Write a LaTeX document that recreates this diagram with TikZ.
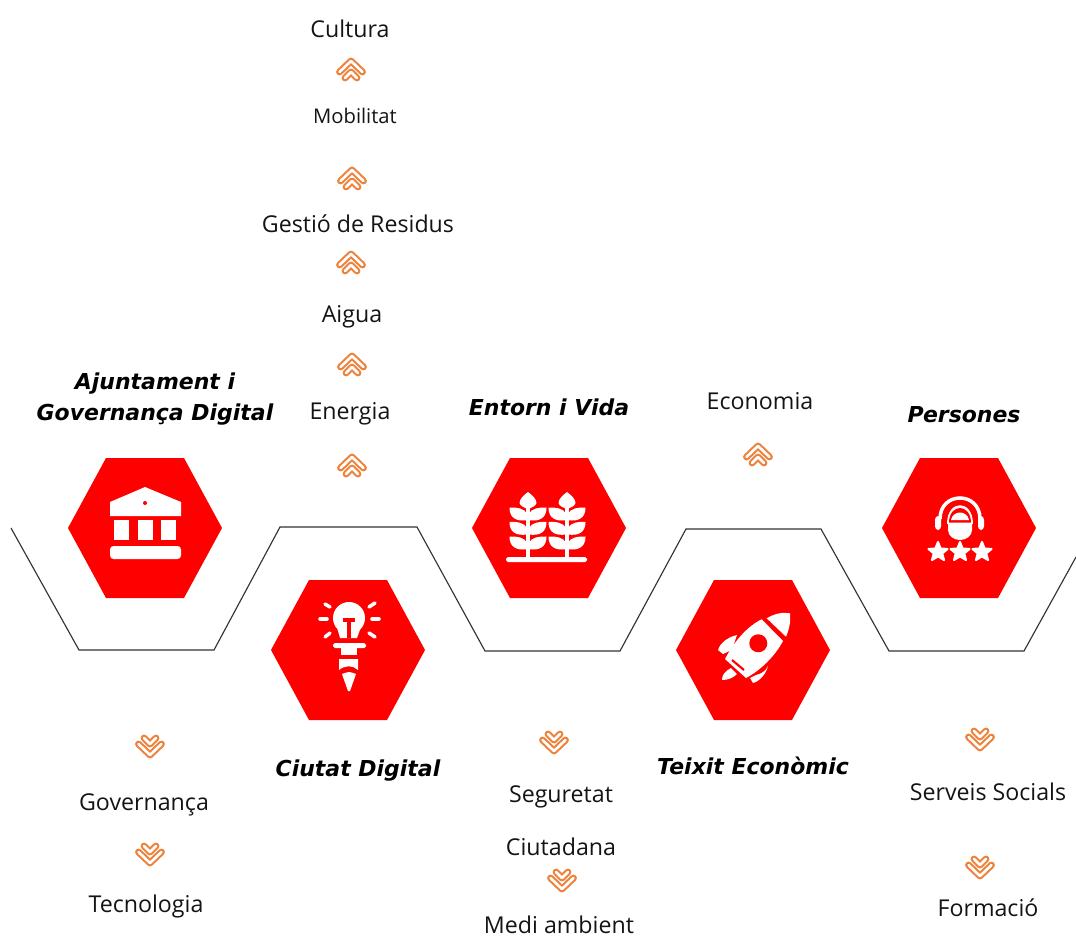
\documentclass[tikz,border=0pt]{standalone}
\usepackage{fontspec}
\setmainfont{Open Sans}
\newfontfamily\themeFont{DejaVu Sans}
\definecolor{chevronOrange}{RGB}{237,130,60}
\newcommand{\myHexagon}[1]{%%
  \fill[hexStyle] ($(#1)+(-77,0)$) -- ($(#1)+(-39,-70)$) -- ($(#1)+(39,-70)$)
    -- ($(#1)+(77,0)$) -- ($(#1)+(39,70)$) -- ($(#1)+(-39,70)$) -- cycle;
}
\newcommand{\chevronPair}[3]{%%
  \begin{scope}[shift={(#1,#2)},yscale=#3]
    \draw[chevronOuter] (-11.5,1) -- (0,-10) -- (11.5,1);
    \draw[chevronInner] (-11.5,1) -- (0,-10) -- (11.5,1);
    \draw[chevronOuter] (-6,7) -- (0,1) -- (6,7);
    \draw[chevronInner] (-6,7) -- (0,1) -- (6,7);
  \end{scope}
}
\newcommand{\bankIcon}{%%
  \fill[white] (-35,-26) -- (0,-41) -- (36,-26) -- (36,-12) -- (-35,-12) -- cycle;
  \fill[red] (0,-25) circle [radius=2];
  \foreach \xa in {-31,-7,16} {
    \fill[white] (\xa,-8) rectangle ++(15,20);
  }
  \fill[white,rounded corners=2] (-35,18) rectangle (36,31);
}
\newcommand{\bulbIcon}{%%
  \fill[white] (1,-32) circle [radius=16];
  \fill[white] (-12,-26) -- (14,-26) -- (9,-12) -- (-8,-12) -- cycle;
  \draw[red,line width=2pt] (-5,-30) -- (7,-30) (1,-30) -- (1,-12);
  %% The rays.
  \foreach \xa/\ya/\xb/\yb in {-28/-31/-21/-31,-23/-46/-18/-43,-23/-13/-18/-17,
    31/-31/24/-31,27/-47/21/-43,27/-13/21/-17} {
    \draw[rayStyle] (\xa,\ya) -- (\xb,\yb);
  }
  \fill[white,rounded corners=1] (-15,-7) rectangle (18,-2);
  \fill[white] (-7,-2) -- (9,-2) -- (9,5) -- (-7,5) -- cycle;
  \fill[white] (-9,9) -- (10,9) -- (10,20) .. controls (5,15) and (-3,15) .. (-9,20) -- cycle;
  \fill[white] (-6,24) .. controls (-3,23) and (-1,22) .. (1,22)
    .. controls (3,22) and (5,23) .. (8,24) -- (2,41) -- (0,41) -- cycle;
}
\newcommand{\wheatStalk}[1]{%%
  \fill[white] (#1,-36) .. controls (#1-4,-33) and (#1-8.5,-29) .. (#1-8.5,-25)
    .. controls (#1-8,-22) and (#1-3,-20) .. (#1,-19)
    .. controls (#1+3,-20) and (#1+8,-22) .. (#1+8.5,-25)
    .. controls (#1+8.5,-29) and (#1+4,-33) .. (#1,-36) -- cycle;
  \draw[white,line width=2.5pt] (#1,-20) -- (#1,31);
  \foreach \ya in {-21.3,-7,7.7} {
    \fill[white] (#1-1,\ya+13.5) .. controls (#1-12,\ya+15) and (#1-18.5,\ya+11) .. (#1-18.5,\ya+1)
      .. controls (#1-12,\ya+0) and (#1-3,\ya+2) .. (#1-1,\ya+7) -- cycle;
    \fill[white] (#1+1,\ya+13.5) .. controls (#1+12,\ya+15) and (#1+18.5,\ya+11) .. (#1+18.5,\ya+1)
      .. controls (#1+12,\ya+0) and (#1+3,\ya+2) .. (#1+1,\ya+7) -- cycle;
  }
}
\newcommand{\wheatIcon}{%%
  \wheatStalk{-21}
  \wheatStalk{18}
  \fill[white,rounded corners=1] (-43,29) rectangle (38,34);
}
\newcommand{\rocketIcon}{%%
  %% The nose.
  \fill[white] (13.7,-31.7) .. controls (22,-36.7) and (30,-38) .. (37,-36.7)
    .. controls (38,-29) and (36,-20) .. (33,-13.3) -- cycle;
  %% The body.
  \fill[white] (8.7,-30.7) .. controls (-5,-24) and (-18,-10) .. (-28,9)
    -- (-7,28) .. controls (8,20) and (22,6) .. (30,-9) -- cycle;
  \fill[red] (5.3,-6.7) circle [radius=9];
  \draw[red,line width=1.2pt] (-21,10) -- (-9,20);
  %% The fins and the flame.
  \fill[white] (-16,-15) .. controls (-25,-13) and (-33,-7) .. (-35,0)
    -- (-30,4) -- (-21,0) .. controls (-19,-5) and (-18,-10) .. (-16,-15) -- cycle;
  \fill[white] (15,16) .. controls (13,21) and (8,24) .. (3,25)
    -- (-3,28) -- (0,33) .. controls (7,31) and (13,24) .. (15,16) -- cycle;
  \fill[white] (-22,18) .. controls (-28,21) and (-31,25) .. (-31,30)
    .. controls (-25,30) and (-20,28) .. (-16,24) -- cycle;
}
\newcommand{\agentIcon}{%%
  %% The headset.
  \draw[white,line width=2pt] (-19,-9) .. controls (-19,-37) and (21,-37) .. (21,-9);
  \fill[white,rounded corners=2] (-24,-12) rectangle (-18,2);
  \fill[white,rounded corners=2] (19,-12) rectangle (25,2);
  %% The hood, the goggles and the face.
  \fill[white] (-12,-4) .. controls (-12,-29) and (14,-29) .. (14,-4) -- cycle;
  \fill[red] (-10,-5) .. controls (-10,-25) and (12,-25) .. (12,-5) -- cycle;
  \fill[white] (-8,-8) .. controls (-6,-18) and (8,-18) .. (10,-8) -- cycle;
  \fill[white] (-11,-5.5) -- (13,-5.5) -- (13,2) .. controls (13,8) and (7,12) .. (1,12)
    .. controls (-5,12) and (-11,8) .. (-11,2) -- cycle;
  \foreach \xa in {-21,1,23} {
    \fill[white,draw=white,line width=1.2pt,line join=round]
      (\xa+0,24-10) -- (\xa+2.6,24-3.5) -- (\xa+9.5,24-3) -- (\xa+4.2,24+1.4)
      -- (\xa+6,24+8) -- (\xa+0,24+4.4) -- (\xa-6,24+8) -- (\xa-4.2,24+1.4)
      -- (\xa-9.5,24-3) -- (\xa-2.6,24-3.5) -- cycle;
  }
}
\usetikzlibrary{calc}

\begin{document}
\begin{tikzpicture}[%%
  x=0.02cm,y=-0.02cm,%%
  hexStyle/.style={fill=red},%%
  lineStyle/.style={-,line width=0.65pt,black!80},%%
  rayStyle/.style={white,line width=2pt,line cap=round},%%
  chevronOuter/.style={line width=3.9pt,draw=chevronOrange,line cap=round,line join=round},%%
  chevronInner/.style={line width=1.5pt,draw=white,line cap=round,line join=round},%%
  itemStyle/.style={font=\fontsize{13.2}{15}\selectfont,text=black!92,inner sep=0pt},%%
  themeStyle/.style={font=\themeFont\fontsize{12.5}{18}\selectfont\bfseries\itshape,inner sep=0pt,align=center}%%
]
\useasboundingbox (0,0) rectangle (1076,937);
%%
\coordinate (bank) at (145,528);
\coordinate (bulb) at (348,650);
\coordinate (wheat) at (549,528);
\coordinate (rocket) at (753,650);
\coordinate (agent) at (959,528);
%%
%% The zigzag line.
\coordinate (za) at (11,528);
\coordinate (zb) at (79,650);
\coordinate (zc) at (214,650);
\coordinate (zd) at (280,527);
\coordinate (ze) at (417,527);
\coordinate (zf) at (485,651);
\coordinate (zg) at (620,651);
\coordinate (zh) at (686,529);
\coordinate (zi) at (821,529);
\coordinate (zj) at (889,651);
\coordinate (zk) at (1024,651);
\coordinate (zl) at (1076,557);
\draw[lineStyle] (za) -- (zb) -- (zc) -- (zd) -- (ze) -- (zf) -- (zg) -- (zh) -- (zi) -- (zj) -- (zk) -- (zl);
%%
%% The hexagons and what stands in them.
\myHexagon{bank}
\myHexagon{bulb}
\myHexagon{wheat}
\myHexagon{rocket}
\myHexagon{agent}
\begin{scope}[shift={(bank)}] \bankIcon \end{scope}
\begin{scope}[shift={(bulb)}] \bulbIcon \end{scope}
\begin{scope}[shift={(wheat)}] \wheatIcon \end{scope}
\begin{scope}[shift={(rocket)}] \rocketIcon \end{scope}
\begin{scope}[shift={(agent)}] \agentIcon \end{scope}
%%
%% The themes.
\node[themeStyle] (ajuntament) at (155,399) {Ajuntament i\\Governança Digital};
\node[themeStyle] (ciutat) at (358,771) {Ciutat Digital};
\node[themeStyle] (entorn) at (549,407) {Entorn i Vida};
\node[themeStyle] (teixit) at (753,766) {Teixit Econòmic};
\node[themeStyle] (persones) at (964,415) {Persones};
%%
%% The items.
\node[itemStyle] (cultura) at (350,29) {Cultura};
\node[itemStyle,font=\fontsize{11.5}{14}\selectfont] (mobilitat) at (355,116) {Mobilitat};
\node[itemStyle] (residus) at (358,224) {Gestió de Residus};
\node[itemStyle] (aigua) at (352,317) {Aigua};
\node[itemStyle] (energia) at (350,414) {Energia};
\node[itemStyle] (economia) at (760,401) {Economia};
\node[itemStyle] (governanca) at (144,805) {Governança};
\node[itemStyle] (tecnologia) at (146,906) {Tecnologia};
\node[itemStyle] (seguretat) at (561,797) {Seguretat};
\node[itemStyle] (ciutadana) at (561,847) {Ciutadana};
\node[itemStyle] (medi) at (559,925) {Medi ambient};
\node[itemStyle] (serveis) at (988,792) {Serveis Socials};
\node[itemStyle] (formacio) at (988,908) {Formació};
%%
%% The chevrons.
\chevronPair{351}{71}{1}
\chevronPair{352}{180}{1}
\chevronPair{351}{264}{1}
\chevronPair{352}{366}{1}
\chevronPair{352}{467}{1}
\chevronPair{758}{456}{1}
\chevronPair{150}{745}{-1}
\chevronPair{150}{853}{-1}
\chevronPair{554}{741}{-1}
\chevronPair{562}{879}{-1}
\chevronPair{980}{738}{-1}
\chevronPair{980}{866}{-1}
\end{tikzpicture}
\end{document}
